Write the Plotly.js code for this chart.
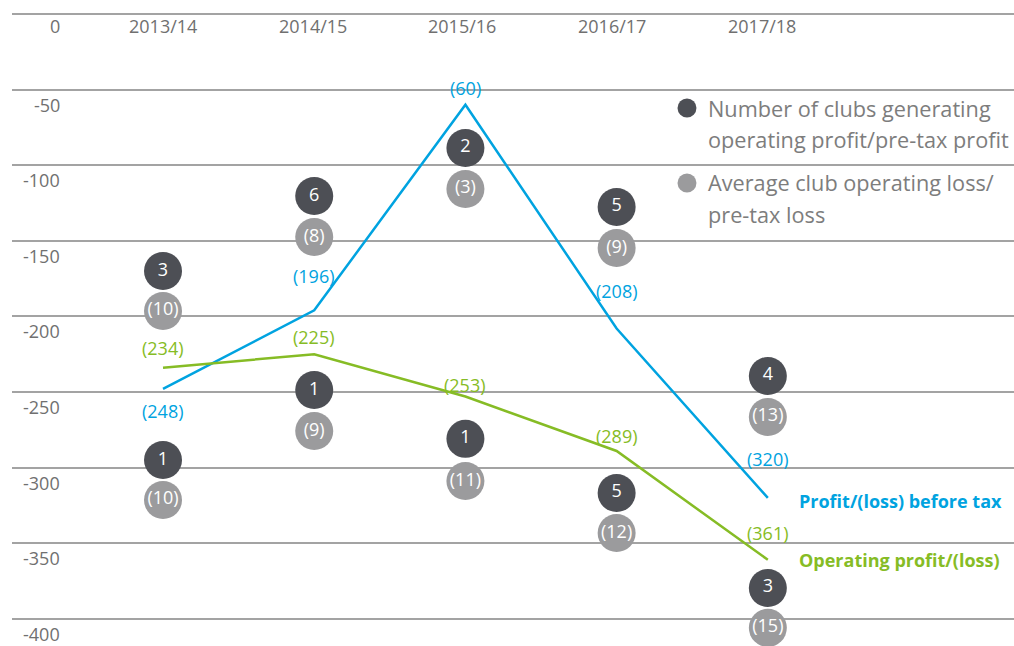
<!DOCTYPE html>
<html>
<head>
<meta charset="utf-8">
<script src="https://cdn.plot.ly/plotly-3.0.1.min.js"></script>
<style>html,body{margin:0;padding:0;background:#fff;}#chart{width:1014px;height:646px;}</style>
</head>
<body>
<div id="chart"></div>
<script>
// ---- data ----
const seasons = ['2013/14', '2014/15', '2015/16', '2016/17', '2017/18'];
const profitBeforeTax = [-248, -196, -60, -208, -320];
const operatingProfit = [-234, -225, -253, -289, -361];
const yTicks = [0, -50, -100, -150, -200, -250, -300, -350, -400];

// bubbles: upper pair and lower pair per season
const clubsUpper = [3, 6, 2, 5, 4];
const clubsUpperY = [-170, -120.4, -88.6, -127.6, -239.4];
const lossUpper = [10, 8, 3, 9, 13];
const lossUpperY = [-196.4, -147.5, -115.7, -154.8, -266.5];
const clubsLower = [1, 1, 1, 5, 3];
const clubsLowerY = [-295, -248.7, -281, -316.8, -379.6];
const lossLower = [10, 9, 11, 12, 15];
const lossLowerY = [-321.4, -275.8, -308.9, -343.3, -406];

// ---- styles ----
const BLUE = '#00a3e0', GREEN = '#86bc25', DARK = '#4d4f55', GREY = '#9b9b9d';
const TICKC = '#707070';
const FONT = 'Open Sans, Noto Sans, sans-serif';
const blueShift = [-22, 34, 17, 37, 39];
const greenShift = [20, 17, 12, 15, 27];

const paren = v => '(' + Math.abs(v) + ')';

function bubbles(vals, ys, color, fmt) {
  return {
    x: seasons, y: ys, type: 'scatter', mode: 'markers+text',
    marker: {size: 38, color: color, line: {width: 0}},
    text: vals.map(fmt), textposition: 'middle center',
    textfont: {family: FONT, size: 18, color: '#ffffff'},
    hoverinfo: 'skip', showlegend: false, cliponaxis: false
  };
}

const traces = [
  {x: seasons, y: profitBeforeTax, type: 'scatter', mode: 'lines',
   line: {color: BLUE, width: 2.5}, showlegend: false, cliponaxis: false, hoverinfo: 'skip'},
  {x: seasons, y: operatingProfit, type: 'scatter', mode: 'lines',
   line: {color: GREEN, width: 2.5}, showlegend: false, cliponaxis: false, hoverinfo: 'skip'},
  bubbles(clubsUpper, clubsUpperY, DARK, v => String(v)),
  bubbles(lossUpper, lossUpperY, GREY, v => '(' + v + ')'),
  bubbles(clubsLower, clubsLowerY, DARK, v => String(v)),
  bubbles(lossLower, lossLowerY, GREY, v => '(' + v + ')')
];

const annotations = [];
profitBeforeTax.forEach((v, i) => annotations.push({
  x: seasons[i], y: v, xref: 'x', yref: 'y', text: paren(v), showarrow: false,
  yshift: blueShift[i], font: {family: FONT, size: 18, color: BLUE}
}));
operatingProfit.forEach((v, i) => annotations.push({
  x: seasons[i], y: v, xref: 'x', yref: 'y', text: paren(v), showarrow: false,
  yshift: greenShift[i], font: {family: FONT, size: 18, color: GREEN}
}));
// y tick labels (below their gridlines)
yTicks.forEach(v => annotations.push({
  x: 0.0499, xref: 'paper', xanchor: 'right', y: v, yref: 'y', yshift: v === 0 ? -12 : -15,
  text: String(v), showarrow: false, font: {family: FONT, size: 18, color: TICKC}
}));
// x tick labels (just under the 0 line)
seasons.forEach((s, i) => annotations.push({
  x: s, xref: 'x', y: 0, yref: 'y', yshift: -12, xshift: -1.5 * i,
  text: s, showarrow: false, font: {family: FONT, size: 18, color: TICKC}
}));
// series labels
annotations.push({x: 0.7834, xref: 'paper', xanchor: 'left', y: profitBeforeTax[4], yref: 'y',
  yshift: -3, text: '<b>Profit/(loss) before tax</b>', showarrow: false,
  font: {family: FONT, size: 18, color: BLUE}});
annotations.push({x: 0.7834, xref: 'paper', xanchor: 'left', y: operatingProfit[4], yref: 'y',
  yshift: 0, text: '<b>Operating profit/(loss)</b>', showarrow: false,
  font: {family: FONT, size: 18, color: GREEN}});
// legend text
const legendLines = [
  ['Number of clubs generating', 0.8459],
  ['operating profit/pre-tax profit', 0.7956],
  ['Average club operating loss/', 0.7280],
  ['pre-tax loss', 0.6792]
];
legendLines.forEach(([t, y]) => annotations.push({
  x: 0.6926, xref: 'paper', xanchor: 'left', y: y, yref: 'paper', yanchor: 'middle',
  text: t, showarrow: false, font: {family: FONT, size: 21.7, color: '#7d7d7d'}
}));

const shapes = [
  {type: 'circle', xref: 'paper', yref: 'paper', x0: 0.6642, x1: 0.6831,
   y0: 0.8459 - 0.01494, y1: 0.8459 + 0.01494, fillcolor: DARK, line: {width: 0}},
  {type: 'circle', xref: 'paper', yref: 'paper', x0: 0.6642, x1: 0.6831,
   y0: 0.7280 - 0.01494, y1: 0.7280 + 0.01494, fillcolor: GREY, line: {width: 0}}
];

const layout = {
  width: 1014, height: 646,
  margin: {l: 12, r: 0, t: 10, b: 0, pad: 0},
  paper_bgcolor: '#ffffff', plot_bgcolor: '#ffffff',
  showlegend: false, hovermode: false,
  xaxis: {
    type: 'category', categoryorder: 'array', categoryarray: seasons,
    range: [-0.9987, 5.628], showticklabels: false, fixedrange: true,
    showgrid: false, zeroline: false, showline: false, ticks: ''
  },
  yaxis: {
    range: [-418, 2.65], tickvals: yTicks, showticklabels: false, fixedrange: true,
    showgrid: true, gridcolor: '#a3a3a3', gridwidth: 1.5,
    zeroline: false, showline: false, ticks: ''
  },
  annotations: annotations,
  shapes: shapes
};

Plotly.newPlot('chart', traces, layout, {displayModeBar: false});
</script>
</body>
</html>
